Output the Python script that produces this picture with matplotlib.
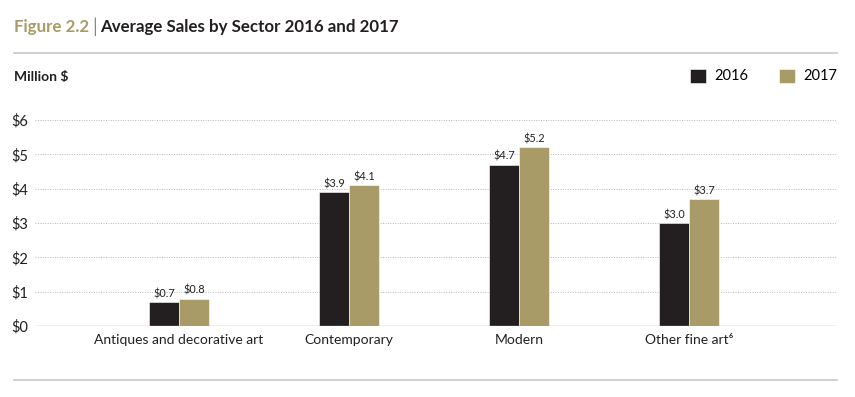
import matplotlib
matplotlib.use("Agg")
import matplotlib.pyplot as plt
import numpy as np
from matplotlib.lines import Line2D

categories = ["Antiques and decorative art", "Contemporary", "Modern", "Other fine art\u2076"]
sales_2016 = [0.7, 3.9, 4.7, 3.0]
sales_2017 = [0.8, 4.1, 5.2, 3.7]
series_names = ["2016", "2017"]
yticks = [0, 1, 2, 3, 4, 5, 6]
ytick_labels = ["$0", "$1", "$2", "$3", "$4", "$5", "$6"]

DARK = "#231F20"
TAN = "#A89B67"
GRID = "#B8B8B8"
FONT = ["Lato", "DejaVu Sans"]

plt.rcParams["font.family"] = FONT

W, H = 855, 397
fig = plt.figure(figsize=(W / 100, H / 100), dpi=100)

def fx(px):
    return px / W

def fy(py):
    return 1 - py / H

ax = fig.add_axes([fx(35), fy(326), fx(837) - fx(35), fy(120) - fy(326)])

x = np.arange(len(categories))
bw = 0.176
b1 = ax.bar(x - bw / 2, sales_2016, bw, color=DARK, edgecolor="white", linewidth=0.4, label=series_names[0], zorder=3)
b2 = ax.bar(x + bw / 2, sales_2017, bw, color=TAN, edgecolor="white", linewidth=0.4, label=series_names[1], zorder=3)

for bars in (b1, b2):
    ax.bar_label(bars, labels=[f"${v:.1f}" for v in bars.datavalues], padding=2,
                 fontsize=7.8, color="#231F20")

ax.set_ylim(0, 6)
ax.set_xlim(-0.847, 3.87)
ax.set_yticks(yticks)
ax.set_yticklabels(ytick_labels, fontsize=10.5, color="#231F20")
ax.set_xticks(x)
ax.set_xticklabels(categories, fontsize=10, color="#231F20")
ax.tick_params(axis="both", length=0)
ax.tick_params(axis="y", pad=5)
ax.tick_params(axis="x", pad=6)
for s in ["top", "right", "left", "bottom"]:
    ax.spines[s].set_visible(False)
ax.yaxis.grid(True, linestyle=(0, (1, 1.5)), color=GRID, linewidth=0.7, zorder=0)
ax.axhline(0, color="#AAAAAA", linewidth=1.0, zorder=4)
ax.set_axisbelow(True)

# rules
fig.add_artist(Line2D([fx(14), fx(837)], [fy(53), fy(53)], color="#C8C8C8", linewidth=1.2))
fig.add_artist(Line2D([fx(14), fx(837)], [fy(380), fy(380)], color="#C8C8C8", linewidth=1.2))

# title
renderer = fig.canvas.get_renderer()
t1 = fig.text(fx(14), fy(27), "Figure 2.2", fontsize=12.2, fontweight="bold", color=TAN, va="center")
bb = t1.get_window_extent(renderer)
t2 = fig.text(bb.x1 / W + fx(3), fy(27), "|", fontsize=13.5, color="#888888", va="center")
bb2 = t2.get_window_extent(renderer)
fig.text(bb2.x1 / W + fx(3), fy(27), "Average Sales by Sector 2016 and 2017", fontsize=12.2,
         fontweight="bold", color=DARK, va="center")

fig.text(fx(14), fy(77), "Million $", fontsize=10, fontweight="bold", color=DARK, va="center")

leg = fig.legend(handles=[b1, b2], labels=series_names, loc="center right",
                 bbox_to_anchor=(fx(850), fy(76)), ncol=2, frameon=False, fontsize=10.5,
                 handlelength=1.1, handleheight=1.1, handletextpad=0.55, columnspacing=2.1)

fig.savefig("out.png", dpi=100)
